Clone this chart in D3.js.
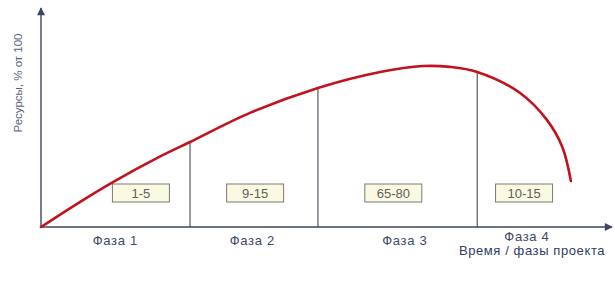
<!DOCTYPE html>
<html>
<head>
<meta charset="utf-8">
<script src="https://cdn.jsdelivr.net/npm/d3@7"></script>
<style>
  body { margin: 0; background: #fff; }
  text { font-family: "Liberation Sans", Arial, sans-serif; }
</style>
</head>
<body>
<div id="chart"></div>
<script>
// resource curve (time 0-100, resources % 0-100)
const curveTime = [0, 6.8, 12.6, 20.8, 26.1, 36.6, 48.5, 59.4, 66.9, 71.6, 76.4, 83.9, 88.6, 91.3, 92.8];
const curveRes  = [0, 11.4, 20.5, 32.1, 38.8, 52.1, 63.5, 70.8, 73.5, 73.1, 70.8, 61.2, 48.9, 36.5, 21.0];

// phase borders (time)
const phaseBounds = [26.1, 48.5, 76.4];
const phaseLabels = ["Фаза 1", "Фаза 2", "Фаза 3", "Фаза 4"];
const phaseLabelTime = [13, 37, 63.7, 85.1];

// share ranges per phase
const rangeLabels = ["1-5", "9-15", "65-80", "10-15"];
const rangeTime = [17.5, 37.5, 61.7, 84.6];

const yTitle = "Ресурсы, % от 100";
const xTitle = "Время / фазы проекта";

const W = 615, H = 286;
const axisColor = "#3d4466";

const svg = d3.select("#chart").append("svg")
    .attr("width", W)
    .attr("height", H);

const x = d3.scaleLinear().domain([0, 100]).range([41, 612]);
const y = d3.scaleLinear().domain([0, 100]).range([227, 8]);

// arrow marker
svg.append("defs").append("marker")
    .attr("id", "arrow")
    .attr("viewBox", "0 0 10 10")
    .attr("refX", 9)
    .attr("refY", 5)
    .attr("markerWidth", 10)
    .attr("markerHeight", 8)
    .attr("markerUnits", "userSpaceOnUse")
    .attr("orient", "auto")
    .append("path")
    .attr("d", "M0,0 L10,5 L0,10 Z")
    .attr("fill", axisColor);

const curveLine = d3.line()
    .x((d, i) => x(curveTime[i]))
    .y((d, i) => y(curveRes[i]))
    .curve(d3.curveCatmullRom.alpha(0.5));

// curve height at a given x, sampled from the drawn path
const tmpPath = svg.append("path").attr("d", curveLine(curveTime)).attr("fill", "none");
const pathNode = tmpPath.node();
const totalLen = pathNode.getTotalLength();
function curveYAt(px) {
    let lo = 0, hi = totalLen;
    for (let k = 0; k < 40; k++) {
        const mid = (lo + hi) / 2;
        if (pathNode.getPointAtLength(mid).x < px) lo = mid; else hi = mid;
    }
    return pathNode.getPointAtLength(lo).y;
}
tmpPath.remove();

// phase borders, from axis up to the curve
svg.selectAll(".phase-line")
    .data(phaseBounds)
    .enter().append("line")
    .attr("class", "phase-line")
    .attr("x1", d => x(d))
    .attr("x2", d => x(d))
    .attr("y1", y(0))
    .attr("y2", d => curveYAt(x(d)))
    .attr("stroke", "#555a66")
    .attr("stroke-width", 1.2);

// range boxes
const boxW = 57, boxH = 18, boxY = 184;
const boxes = svg.selectAll(".range")
    .data(rangeLabels)
    .enter().append("g")
    .attr("class", "range");

boxes.append("rect")
    .attr("x", (d, i) => x(rangeTime[i]) - boxW / 2)
    .attr("y", boxY)
    .attr("width", boxW)
    .attr("height", boxH)
    .attr("fill", "#fafae2")
    .attr("stroke", "#7a7a72")
    .attr("stroke-width", 1);

boxes.append("text")
    .attr("x", (d, i) => x(rangeTime[i]))
    .attr("y", boxY + boxH / 2 + 4.5)
    .attr("text-anchor", "middle")
    .style("font-size", "13px")
    .attr("fill", "#5e5e5e")
    .text(d => d);

// axes
svg.append("line")
    .attr("x1", x(0)).attr("y1", y(0))
    .attr("x2", x(100)).attr("y2", y(0))
    .attr("stroke", axisColor)
    .attr("stroke-width", 1.4)
    .attr("marker-end", "url(#arrow)");

svg.append("line")
    .attr("x1", x(0)).attr("y1", y(0))
    .attr("x2", x(0)).attr("y2", y(100))
    .attr("stroke", axisColor)
    .attr("stroke-width", 1.4)
    .attr("marker-end", "url(#arrow)");

// resource curve
svg.append("path")
    .datum(curveTime)
    .attr("fill", "none")
    .attr("stroke", "#c0131d")
    .attr("stroke-width", 2.6)
    .attr("stroke-linecap", "round")
    .attr("d", curveLine);

// phase labels
svg.selectAll(".phase-label")
    .data(phaseLabels)
    .enter().append("text")
    .attr("class", "phase-label")
    .attr("x", (d, i) => x(phaseLabelTime[i]))
    .attr("y", (d, i) => i === 3 ? 241 : 245)
    .attr("text-anchor", "middle")
    .style("font-size", "13px")
    .style("letter-spacing", "0.7px")
    .attr("fill", "#3e4868")
    .text(d => d);

// axis titles
svg.append("text")
    .attr("x", 532)
    .attr("y", 255)
    .attr("text-anchor", "middle")
    .style("font-size", "13px")
    .style("letter-spacing", "0.6px")
    .attr("fill", "#2e3d66")
    .text(xTitle);

svg.append("text")
    .attr("transform", "translate(22,83) rotate(-90)")
    .attr("text-anchor", "middle")
    .style("font-size", "11.5px")
    .attr("fill", "#5a6282")
    .text(yTitle);
</script>
</body>
</html>
